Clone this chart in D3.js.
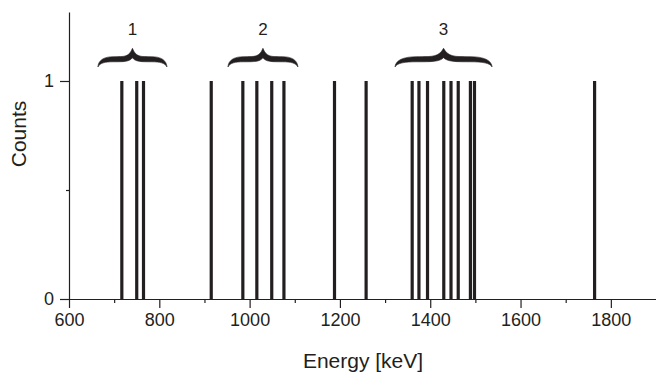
<!DOCTYPE html>
<html>
<head>
<meta charset="utf-8">
<script src="https://cdn.jsdelivr.net/npm/d3@7"></script>
<style>
  html, body { margin: 0; padding: 0; background: #fff; }
  svg { display: block; }
  text { font-family: "Liberation Sans", Arial, sans-serif; fill: #231f20; }
</style>
</head>
<body>
<svg id="chart" width="656" height="373"></svg>
<script>
// Gamma line energies (keV), each registered with one count
const energies = [717, 750, 765, 915, 985, 1016, 1049, 1076, 1188, 1258,
                  1360, 1375, 1394, 1430, 1446, 1462, 1489, 1498, 1764];
const counts = energies.map(() => 1);

// Bracketed line groups (energy span in keV)
const groupLabels = ["1", "2", "3"];
const groupFrom = [664, 952, 1322];
const groupTo = [817, 1107, 1537];

// Axis ticks
const xMajorTicks = [600, 800, 1000, 1200, 1400, 1600, 1800];
const xMinorTicks = [700, 900, 1100, 1300, 1500, 1700];
const yMajorTicks = [0, 1];
const yMinorTicks = [0.5];

const svg = d3.select("#chart");
const ink = "#231f20";

const x = d3.scaleLinear().domain([600, 1900]).range([69, 656]);
const y = d3.scaleLinear().domain([0, 1.3165]).range([299, 12]);

// Spectral lines
svg.append("g")
  .selectAll("line")
  .data(energies)
  .join("line")
  .attr("x1", d => x(d)).attr("x2", d => x(d))
  .attr("y1", y(0)).attr("y2", (d, i) => y(counts[i]))
  .attr("stroke", ink)
  .attr("stroke-width", 3.2);

// X axis: minor ticks, then labelled major ticks
svg.append("g")
  .attr("transform", `translate(0,${y(0)})`)
  .call(d3.axisBottom(x).tickValues(xMinorTicks).tickSize(4).tickSizeOuter(0).tickFormat(""))
  .call(g => g.select(".domain").remove());
svg.append("g")
  .attr("transform", `translate(0,${y(0)})`)
  .call(d3.axisBottom(x).tickValues(xMajorTicks).tickSize(9).tickSizeOuter(0).tickPadding(5).tickFormat(d3.format("d")));

// Y axis
svg.append("g")
  .attr("transform", `translate(${x(600)},0)`)
  .call(d3.axisLeft(y).tickValues(yMinorTicks).tickSize(3).tickSizeOuter(0).tickFormat(""))
  .call(g => g.select(".domain").remove());
svg.append("g")
  .attr("transform", `translate(${x(600)},0)`)
  .call(d3.axisLeft(y).tickValues(yMajorTicks).tickSize(9).tickSizeOuter(0).tickPadding(6).tickFormat(d3.format("d")));

svg.selectAll(".domain, .tick line")
  .attr("stroke", ink)
  .attr("stroke-width", 1.2);
svg.selectAll(".tick text")
  .attr("font-size", 18)
  .attr("fill", ink)
  .style("font-family", '"Liberation Sans", Arial, sans-serif');

// Axis titles
svg.append("text")
  .attr("x", 363).attr("y", 368)
  .attr("text-anchor", "middle")
  .attr("font-size", 21)
  .text("Energy [keV]");
svg.append("text")
  .attr("transform", `translate(26,134) rotate(-90)`)
  .attr("text-anchor", "middle")
  .attr("font-size", 21)
  .text("Counts");

// Curly braces above each group of lines
function bracePath(x0, x1, lineTop) {
  const hw = (x1 - x0) / 2, xc = (x0 + x1) / 2;
  const yb = lineTop - 14;      // brace ends
  const yt = lineTop - 32.7;    // tip
  const aT = yb - 10.3;         // arm upper edge
  const aB = yb - 5.2;          // arm lower edge
  const notch = yb - 9.3;
  return [
    `M${x0},${yb}`,
    `C${x0 + 0.5},${yb - 7} ${x0 + 0.18 * hw},${aT} ${x0 + 0.45 * hw},${aT}`,
    `C${x0 + 0.78 * hw},${aT} ${xc - 0.1 * hw},${aT + 0.3} ${xc},${yt}`,
    `C${xc + 0.1 * hw},${aT + 0.3} ${x1 - 0.78 * hw},${aT} ${x1 - 0.45 * hw},${aT}`,
    `C${x1 - 0.18 * hw},${aT} ${x1 - 0.5},${yb - 7} ${x1},${yb}`,
    `C${x1 - 2},${yb - 4} ${x1 - 0.2 * hw},${aB} ${x1 - 0.45 * hw},${aB}`,
    `C${x1 - 0.75 * hw},${aB} ${xc + 0.08 * hw},${aB} ${xc},${notch}`,
    `C${xc - 0.08 * hw},${aB} ${x0 + 0.75 * hw},${aB} ${x0 + 0.45 * hw},${aB}`,
    `C${x0 + 0.2 * hw},${aB} ${x0 + 2},${yb - 4} ${x0},${yb}`,
    "Z"
  ].join(" ");
}

const lineTop = y(1);
const groups = svg.append("g")
  .selectAll("g")
  .data(groupLabels)
  .join("g");
groups.append("path")
  .attr("d", (d, i) => bracePath(x(groupFrom[i]), x(groupTo[i]), lineTop))
  .attr("fill", ink)
  .attr("stroke", ink)
  .attr("stroke-width", 0.6)
  .attr("stroke-linejoin", "round");
groups.append("text")
  .attr("x", (d, i) => (x(groupFrom[i]) + x(groupTo[i])) / 2)
  .attr("y", lineTop - 45.5)
  .attr("text-anchor", "middle")
  .attr("font-size", 17)
  .text(d => d);
</script>
</body>
</html>
